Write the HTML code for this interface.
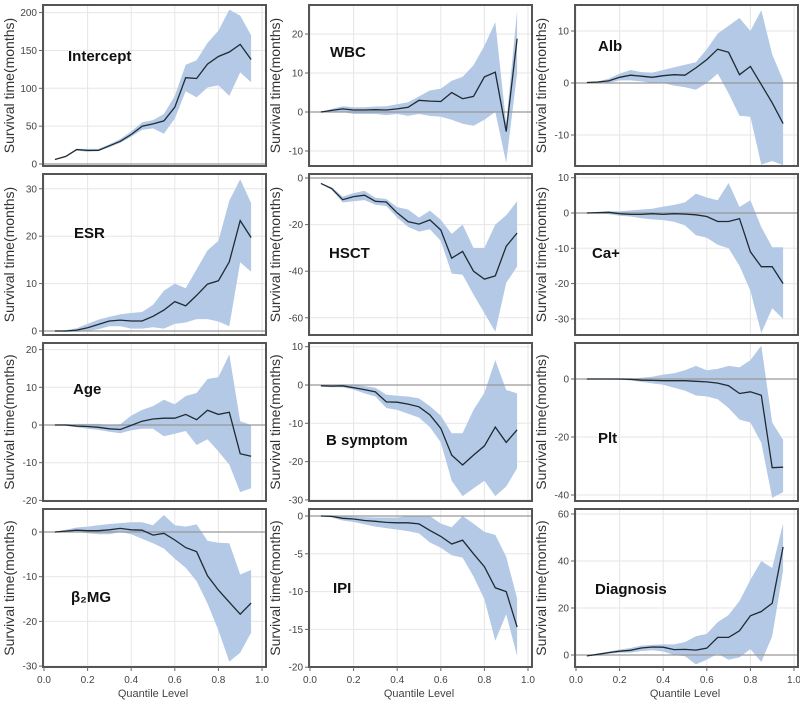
<!DOCTYPE html>
<html><head><meta charset="utf-8"><style>
html,body{margin:0;padding:0;background:#fff;}
svg{display:block;font-family:"Liberation Sans",sans-serif;}
</style></head><body>
<svg id="chart" width="800" height="703" viewBox="0 0 800 703" xmlns="http://www.w3.org/2000/svg"></svg>
<script>
const quantiles=[0.05,0.1,0.15,0.2,0.25,0.3,0.35,0.4,0.45,0.5,0.55,0.6,0.65,0.7,0.75,0.8,0.85,0.9,0.95];
const xTicks=[0.0,0.2,0.4,0.6,0.8,1.0];

const interceptMean=[6,10,19,18,18,24,30,39,50,53,57,75,114,113,132,142,148,158,138];
const interceptLower=[6,9,18,16,17,22,28,36,45,47,40,60,96,88,101,104,90,121,108];
const interceptUpper=[6,11,20,20,20,26,33,43,55,58,66,90,131,137,160,176,204,196,170];
const interceptTicks=[0,50,100,150,200];

const wbcMean=[0,0.4,0.8,0.5,0.5,0.6,0.5,0.8,1.2,3,2.8,2.7,5,3.4,4,9,10.2,-5,18.8];
const wbcLower=[0,0,0,-0.5,-0.5,-0.5,-0.8,-0.5,-1,-0.5,-1,-1.2,-2,-3,-3.5,-2,0,-13,10];
const wbcUpper=[0,0.8,1.5,1.2,1.2,1.4,1.5,2,2.5,4,5.5,6,8,9,12,17,23,-3,26];
const wbcTicks=[-10,0,10,20];

const albMean=[0.1,0.2,0.4,1.1,1.5,1.3,1.1,1.4,1.6,1.5,2.9,4.5,6.5,5.9,1.6,3.2,-0.3,-3.8,-7.8];
const albLower=[0,0,0,0.5,0.5,0.3,0,0,-0.5,-0.8,-1.3,0,1.8,-2,-6.3,-6.5,-15.7,-15,-15.8];
const albUpper=[0.1,0.3,0.8,1.8,2.5,2.1,2,2.5,3,3.5,4,6.5,9.5,11,12.5,10,14,5.5,0.5];
const albTicks=[-10,0,10];

const esrMean=[0,0,0.2,0.7,1.4,2.1,2.3,2.1,2.1,3.1,4.4,6.2,5.3,7.5,9.9,10.6,14.6,23.3,19.7];
const esrLower=[0,-0.2,-0.2,0,0.4,1,1,0.5,0.5,0.8,0.5,1.5,1.8,2.5,2.5,2,1,14.5,12.5];
const esrUpper=[0,0.2,0.6,1.5,2.4,3,3.5,3.8,4,5.5,8.5,10,9,13,17,19,27.5,32,27];
const esrTicks=[0,10,20,30];

const hsctMean=[-2.3,-4.6,-9.3,-8,-7.4,-10,-10.3,-15,-18.7,-19.8,-18,-22.3,-34.4,-31.5,-40,-43.4,-42,-29.3,-23.6];
const hsctLower=[-2.3,-5,-10.5,-10,-9.5,-11.5,-12,-17,-21,-23,-22,-27,-41,-41.5,-50,-58,-66,-45,-38];
const hsctUpper=[-2.3,-4,-8,-6.5,-5.5,-8.5,-9,-12.5,-13.5,-17,-14,-18,-24,-20,-30,-30,-20,-16,-10];
const hsctTicks=[-60,-40,-20,0];

const caMean=[0,0.1,0.2,-0.2,-0.4,-0.4,-0.2,-0.4,-0.2,-0.3,-0.5,-1,-2.4,-2.4,-1.6,-11,-15.2,-15.2,-20];
const caLower=[0,-0.2,-0.3,-0.8,-1,-1.5,-1.8,-2,-2.5,-3.5,-6.3,-7,-9,-10,-15,-22,-34,-27,-30];
const caUpper=[0,0.3,0.5,0.5,0.7,1,1.2,1.8,2.3,3,5.5,4.4,3.6,8.5,1.7,3.6,-4,-9.7,-9.7];
const caTicks=[-30,-20,-10,0,10];

const ageMean=[0,0,-0.3,-0.4,-0.6,-1,-1.2,-0.1,1,1.6,1.8,1.8,2.8,1.4,3.9,2.8,3.4,-7.6,-8.3];
const ageLower=[0,-0.2,-0.6,-1,-1.3,-1.8,-2.2,-1.4,-1,-1,-3,-2.3,-1.6,-5.3,-3.8,-7,-10.5,-17.8,-16.8];
const ageUpper=[0,0.2,0.3,0.3,0.3,0,0.2,2.5,4,5,6.7,5.5,7.7,8.5,12.2,12.7,18.7,1,0];
const ageTicks=[-20,-10,0,10,20];

const bMean=[-0.2,-0.3,-0.2,-0.7,-1.2,-1.8,-4.4,-4.5,-5,-5.7,-7.8,-11.3,-18.3,-20.9,-18.3,-15.9,-11,-15,-11.7];
const bLower=[-0.4,-0.6,-0.6,-1.2,-2.2,-3,-6,-6.5,-7.5,-8.5,-11,-15,-25,-29,-27,-25,-29,-26.5,-21.7];
const bUpper=[0,0,0,0,-0.3,-0.7,-2.5,-2.8,-3,-3.5,-5.5,-8,-12.6,-12.6,-6.5,-2,6.5,-1.3,-2.2];
const bTicks=[-30,-20,-10,0,10];

const pltMean=[0,0,0,0,-0.1,-0.4,-0.5,-0.6,-0.6,-0.6,-0.8,-1,-1.4,-2.3,-5,-4.4,-5.6,-30.6,-30.4];
const pltLower=[0,0,-0.2,-0.3,-0.5,-1,-1.5,-2,-3,-4,-5.7,-6,-7,-10,-14,-15,-22,-41,-39];
const pltUpper=[0,0,0,0.1,0.2,0.4,0.8,1.5,2,3,4.5,3,3.5,4.5,4,6.5,11.5,-15,-21];
const pltTicks=[-40,-20,0];

const b2mgMean=[0,0.2,0.4,0.3,0.3,0.5,0.8,0.5,0.4,-0.7,-0.3,-1.8,-3.5,-4.4,-9.8,-13,-15.7,-18.4,-15.9];
const b2mgLower=[0,0,0,-0.3,-0.5,-0.5,0,-0.5,-1.5,-2.5,-3.7,-6,-8,-11,-16,-22,-29,-27,-22.5];
const b2mgUpper=[0.1,0.5,1,1.2,1.5,1.8,2,2.2,2.2,1.5,3.8,1.5,1.2,1.7,-2,-2.4,-2.5,-9.5,-8.5];
const b2mgTicks=[-30,-20,-10,0];

const ipiMean=[0,-0.05,-0.3,-0.4,-0.6,-0.7,-0.85,-0.9,-0.9,-1.05,-1.9,-2.7,-3.7,-3.2,-5,-6.7,-9.5,-10,-14.7];
const ipiLower=[0,-0.2,-0.6,-0.8,-1.1,-1.4,-1.6,-1.8,-2,-2.3,-3.5,-4.2,-5.2,-5.5,-8,-11,-16.5,-13,-18.5];
const ipiUpper=[0,0.05,0,-0.1,-0.15,-0.2,-0.2,-0.2,0,0,0,-1,-1.5,0,-1,-2.1,-2.5,-5.4,-10.9];
const ipiTicks=[-20,-15,-10,-5,0];

const diagMean=[-0.4,0.3,1,1.6,2,3,3.4,3.3,2.3,2.4,2.1,2.9,7.5,7.5,10.3,16.7,18.5,22,46];
const diagLower=[-0.5,0,0.5,1,1,1.7,2,1.5,0,-0.5,-4,-2,0.5,-2,-1,2.5,-3,8,36];
const diagUpper=[-0.3,0.6,1.5,2.3,3,4,4.3,4.5,4.5,5.5,8,9,14,17,23,32,40,37,56];
const diagTicks=[0,20,40,60];

const NS='http://www.w3.org/2000/svg';
const svg=document.getElementById('chart');
function mk(tag,attrs,parent){const e=document.createElementNS(NS,tag);for(const k in attrs)e.setAttribute(k,attrs[k]);(parent||svg).appendChild(e);return e;}

const colX=[44,310,576];
const rowY=[[5,166],[174,335],[343,501],[509,667]];
const panels=[
 {id:'intercept',label:'Intercept',mean:interceptMean,lo:interceptLower,hi:interceptUpper,ticks:interceptTicks,c:0,r:0,y0:164,ppu:0.757,lx:68,ly:61},
 {id:'wbc',label:'WBC',mean:wbcMean,lo:wbcLower,hi:wbcUpper,ticks:wbcTicks,c:1,r:0,y0:112,ppu:3.9,lx:330,ly:57},
 {id:'alb',label:'Alb',mean:albMean,lo:albLower,hi:albUpper,ticks:albTicks,c:2,r:0,y0:83,ppu:5.2,lx:598,ly:51},
 {id:'esr',label:'ESR',mean:esrMean,lo:esrLower,hi:esrUpper,ticks:esrTicks,c:0,r:1,y0:331,ppu:4.74,lx:74,ly:238},
 {id:'hsct',label:'HSCT',mean:hsctMean,lo:hsctLower,hi:hsctUpper,ticks:hsctTicks,c:1,r:1,y0:178,ppu:2.33,lx:329,ly:258},
 {id:'ca',label:'Ca+',mean:caMean,lo:caLower,hi:caUpper,ticks:caTicks,c:2,r:1,y0:213,ppu:3.53,lx:592,ly:258},
 {id:'age',label:'Age',mean:ageMean,lo:ageLower,hi:ageUpper,ticks:ageTicks,c:0,r:2,y0:425,ppu:3.77,lx:73,ly:394},
 {id:'bsymptom',label:'B symptom',mean:bMean,lo:bLower,hi:bUpper,ticks:bTicks,c:1,r:2,y0:385,ppu:3.83,lx:326,ly:445},
 {id:'plt',label:'Plt',mean:pltMean,lo:pltLower,hi:pltUpper,ticks:pltTicks,c:2,r:2,y0:379,ppu:2.9,lx:598,ly:443},
 {id:'b2mg',label:'β₂MG',mean:b2mgMean,lo:b2mgLower,hi:b2mgUpper,ticks:b2mgTicks,c:0,r:3,y0:532,ppu:4.47,lx:71,ly:602},
 {id:'ipi',label:'IPI',mean:ipiMean,lo:ipiLower,hi:ipiUpper,ticks:ipiTicks,c:1,r:3,y0:516,ppu:7.56,lx:333,ly:593},
 {id:'diagnosis',label:'Diagnosis',mean:diagMean,lo:diagLower,hi:diagUpper,ticks:diagTicks,c:2,r:3,y0:655,ppu:2.35,lx:595,ly:594}
];

panels.forEach((p,pi)=>{
  const x0=colX[p.c], fl=x0-1, fr=x0+222, ft=rowY[p.r][0], fb=rowY[p.r][1];
  const xs=q=>x0+218*q;
  const ys=v=>p.y0-v*p.ppu;
  const g=mk('g',{});
  
  
  const cp=mk('clipPath',{id:'clip'+pi},g);
  mk('rect',{x:fl,y:ft,width:fr-fl,height:fb-ft},cp);
  // grid
  xTicks.forEach(t=>{
    const l=mk('line',{x1:xs(t),x2:xs(t),y1:ft,y2:fb,stroke:'#e6e6e6','stroke-width':1},g);
    
    
  });
  p.ticks.forEach(t=>{
    const y=ys(t);
    if(y>ft&&y<fb){
      const l=mk('line',{x1:fl,x2:fr,y1:y,y2:y,stroke:'#e6e6e6','stroke-width':1},g);
      
      
    }
    const tk=mk('line',{x1:fl-4,x2:fl,y1:y,y2:y,stroke:'#666','stroke-width':1},g);
    
    
    const tl=mk('text',{x:fl-6,y:y+3.5,'text-anchor':'end','font-size':10,fill:'#444'},g);
    tl.textContent=String(t);
    
    
  });
  // band
  let d='';
  quantiles.forEach((q,i)=>{d+=(i?'L':'M')+xs(q).toFixed(1)+','+ys(p.hi[i]).toFixed(1);});
  for(let i=quantiles.length-1;i>=0;i--){d+='L'+xs(quantiles[i]).toFixed(1)+','+ys(p.lo[i]).toFixed(1);}
  d+='Z';
  const band=mk('path',{d:d,fill:'#b3c9e5',stroke:'none','clip-path':'url(#clip'+pi+')'},g);
  
  
  // zero line
  const z=mk('line',{x1:fl,x2:fr,y1:ys(0),y2:ys(0),stroke:'#999','stroke-width':1.2},g);
  
  
  // estimate line
  const pts=quantiles.map((q,i)=>xs(q).toFixed(1)+','+ys(p.mean[i]).toFixed(1)).join(' ');
  const ln=mk('polyline',{points:pts,fill:'none',stroke:'#1f2a33','stroke-width':1.3,'clip-path':'url(#clip'+pi+')'},g);
  
  
  // frame
  const fr2=mk('rect',{x:fl,y:ft,width:fr-fl,height:fb-ft,fill:'none',stroke:'#555','stroke-width':2},g);
  
  
  // label
  const lb=mk('text',{x:p.lx,y:p.ly,'font-size':15,'font-weight':'bold',fill:'#111'},g);
  lb.textContent=p.label;
  
  
  // y title
  const cy=(ft+fb)/2, tx=fl-29;
  const yt=mk('text',{x:tx,y:cy,'text-anchor':'middle','font-size':14,fill:'#333',transform:'rotate(-90 '+tx+' '+cy+')'},g);
  yt.textContent='Survival time(months)';
  
  
  // x axis on bottom row
  if(p.r===3){
    xTicks.forEach(t=>{
      const tk=mk('line',{x1:xs(t),x2:xs(t),y1:fb,y2:fb+4,stroke:'#666','stroke-width':1},g);
      
      
      const tl=mk('text',{x:xs(t),y:fb+16,'text-anchor':'middle','font-size':10,fill:'#444'},g);
      tl.textContent=t.toFixed(1);
      
      
    });
    const xt=mk('text',{x:x0+109,y:fb+30,'text-anchor':'middle','font-size':11,fill:'#444'},g);
    xt.textContent='Quantile Level';
    
    
  }
});
</script>
</body></html>
